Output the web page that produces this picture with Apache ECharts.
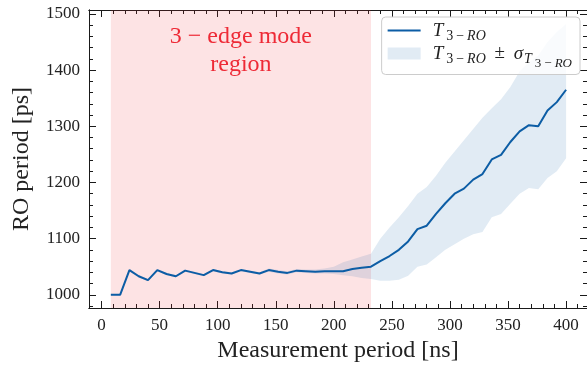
<!DOCTYPE html>
<html>
<head>
<meta charset="utf-8">
<script src="https://cdn.jsdelivr.net/npm/echarts@6/dist/echarts.min.js"></script>
<style>
  html, body { margin: 0; padding: 0; background: #ffffff; }
  #chart { width: 587px; height: 368px; }
</style>
</head>
<body>
<div id="chart"></div>
<script>
// Measurement period of each run [ns]
const periods = [8, 16, 24, 32, 40, 48, 56, 64, 72, 80,
  88, 96, 104, 112, 120, 128, 136, 144, 152, 160,
  168, 176, 184, 192, 200, 208, 216, 224, 232, 240,
  248, 256, 264, 272, 280, 288, 296, 304, 312, 320,
  328, 336, 344, 352, 360, 368, 376, 384, 392, 400];

// Mean ring-oscillator period T_{3-RO} [ps]
const meanPeriod = [1000, 1000, 1044, 1033, 1026, 1044, 1037, 1033, 1043, 1039,
  1035, 1044, 1040, 1038, 1044, 1041, 1038, 1044, 1041, 1039,
  1043, 1042, 1041, 1042, 1042, 1042, 1046, 1048, 1050, 1060,
  1069, 1080, 1095, 1117, 1123, 1144, 1163, 1180, 1189, 1205,
  1215, 1241, 1249, 1272, 1291, 1302, 1300, 1328, 1343, 1365];

// T - sigma and T + sigma [ps]
const bandLower = [999, 999, 1042, 1031, 1024, 1042, 1035, 1031, 1041, 1037,
  1033, 1042, 1038, 1036, 1042, 1039, 1036, 1041, 1038, 1036,
  1040, 1039, 1038, 1038, 1037, 1035, 1033, 1030, 1028, 1025,
  1025, 1027, 1034, 1050, 1054, 1067, 1080, 1090, 1100, 1108,
  1112, 1138, 1144, 1162, 1180, 1190, 1188, 1208, 1220, 1243];
const bandUpper = [1001, 1001, 1046, 1035, 1028, 1046, 1039, 1035, 1045, 1041,
  1037, 1046, 1042, 1040, 1046, 1043, 1040, 1047, 1044, 1042,
  1046, 1045, 1045, 1047, 1050, 1058, 1063, 1068, 1073, 1100,
  1120, 1138, 1158, 1180, 1192, 1212, 1235, 1255, 1275, 1295,
  1315, 1332, 1348, 1370, 1398, 1414, 1426, 1450, 1468, 1482];

// Shaded 3-edge mode interval [ns]
const regionStart = 8;
const regionEnd = 232;
const regionLabel = '3 − edge mode\nregion';

// Axis ticks
const xMajorTicks = [0, 50, 100, 150, 200, 250, 300, 350, 400];
const yMajorTicks = [1000, 1100, 1200, 1300, 1400, 1500];
const xMinorTicks = [];
for (let v = 10; v <= 410; v += 10) xMinorTicks.push(v);
const yMinorTicks = [];
for (let v = 980; v <= 1500; v += 20) yMinorTicks.push(v);

const X_MIN = -10.8, X_MAX = 418;
const Y_MIN = 976.5, Y_MAX = 1507;

const lineColor = '#0C5DA5';
const bandColor = 'rgba(12,93,165,0.12)';
const ink = '#1a1a1a';
const textInk = '#222222';
const serif = '"Liberation Serif", "DejaVu Serif", serif';

function xAxisDef(position, ticks, len, withLabels) {
  return {
    type: 'value', position: position, min: X_MIN, max: X_MAX,
    axisLine: { show: true, onZero: false, lineStyle: { color: ink, width: 1 } },
    axisTick: { show: true, inside: true, length: len, customValues: ticks, lineStyle: { color: ink, width: 1 } },
    axisLabel: withLabels ? {
      show: true, customValues: xMajorTicks, margin: 9,
      fontFamily: serif, fontSize: 17, color: textInk,
      formatter: function (v) { return String(v); }
    } : { show: false },
    splitLine: { show: false },
    name: withLabels ? 'Measurement period [ns]' : '',
    nameLocation: 'middle', nameGap: 31,
    nameTextStyle: { fontFamily: serif, fontSize: 24, color: textInk }
  };
}
function yAxisDef(position, ticks, len, withLabels) {
  return {
    type: 'value', position: position, min: Y_MIN, max: Y_MAX,
    axisLine: { show: true, onZero: false, lineStyle: { color: ink, width: 1 } },
    axisTick: { show: true, inside: true, length: len, customValues: ticks, lineStyle: { color: ink, width: 1 } },
    axisLabel: withLabels ? {
      show: true, customValues: yMajorTicks, margin: 9,
      fontFamily: serif, fontSize: 17, color: textInk,
      formatter: function (v) { return String(v); }
    } : { show: false },
    splitLine: { show: false },
    name: withLabels ? 'RO period [ps]' : '',
    nameLocation: 'middle', nameGap: 55,
    nameTextStyle: { fontFamily: serif, fontSize: 24, color: textInk }
  };
}

// Math-style legend labels: T_{3-RO} and T_{3-RO} ± sigma_{T_{3-RO}}
const legendRich = {
  gap: { width: 7 },
  T: { fontFamily: serif, fontStyle: 'italic', fontSize: 19, color: textInk },
  s: { fontFamily: serif, fontSize: 14, color: textInk, padding: [11, 0, 0, 3] },
  sm: { fontFamily: serif, fontSize: 14, color: textInk, padding: [11, 3, 0, 3] },
  si: { fontFamily: serif, fontStyle: 'italic', fontSize: 14, color: textInk, padding: [11, 0, 0, 0] },
  sT: { fontFamily: serif, fontStyle: 'italic', fontSize: 14, color: textInk, padding: [11, 0, 0, 1] },
  pm: { fontFamily: serif, fontSize: 19, color: textInk, padding: [0, 4, 0, 4] },
  ss: { fontFamily: serif, fontSize: 13, color: textInk, padding: [21, 0, 0, 3] },
  ssm: { fontFamily: serif, fontSize: 13, color: textInk, padding: [21, 3, 0, 3] },
  ssi: { fontFamily: serif, fontStyle: 'italic', fontSize: 13, color: textInk, padding: [21, 0, 0, 0] }
};
const legendText = {
  mean: '{gap|}{T|T}{s|3}{sm|−}{si|RO}',
  band: '{gap|}{T|T}{s|3}{sm|−}{si|RO}{pm| ± }{T|σ}{sT|T}{ss|3}{ssm|−}{ssi|RO}'
};

const chart = echarts.init(document.getElementById('chart'), null, { renderer: 'canvas' });
chart.setOption({
  animation: false,
  backgroundColor: '#ffffff',
  grid: { left: 89, right: 0, top: 10, bottom: 58, containLabel: false },
  xAxis: [
    xAxisDef('bottom', xMajorTicks, 7, true),
    xAxisDef('bottom', xMinorTicks, 4, false),
    xAxisDef('top', xMajorTicks, 7, false),
    xAxisDef('top', xMinorTicks, 4, false)
  ],
  yAxis: [
    yAxisDef('left', yMajorTicks, 7, true),
    yAxisDef('left', yMinorTicks, 4, false),
    yAxisDef('right', yMajorTicks, 7, false),
    yAxisDef('right', yMinorTicks, 4, false)
  ],
  legend: {
    data: [
      { name: 'mean', icon: 'path://M0,0 L33,0 L33,2 L0,2 Z', itemStyle: { color: lineColor } },
      { name: 'band', icon: 'rect', itemStyle: { color: bandColor } }
    ],
    orient: 'vertical', right: 7, top: 17,
    itemWidth: 33, itemHeight: 12, itemGap: 1,
    padding: [4, 8, 4, 6],
    backgroundColor: 'rgba(255,255,255,0.8)', borderColor: '#cccccc', borderWidth: 1, borderRadius: 4,
    formatter: function (name) { return legendText[name]; },
    textStyle: { rich: legendRich }
  },
  series: [
    {
      name: 'region', type: 'line', data: [], z: 1, silent: true,
      markArea: {
        silent: true,
        itemStyle: { color: 'rgba(240,40,50,0.13)' },
        label: {
          show: true, position: 'insideTop', distance: 13,
          fontFamily: serif, fontSize: 24, lineHeight: 28, color: '#ee2a36',
          formatter: regionLabel
        },
        data: [[{ xAxis: regionStart }, { xAxis: regionEnd }]]
      }
    },
    {
      name: 'band', type: 'custom', z: 2, silent: true,
      data: periods.map(function (x, i) { return [x, bandLower[i], bandUpper[i]]; }),
      encode: { x: 0, y: [1, 2] },
      itemStyle: { color: bandColor },
      renderItem: function (params, api) {
        if (params.dataIndex !== 0) return null;
        const pts = [];
        for (let i = 0; i < periods.length; i++) pts.push(api.coord([periods[i], bandUpper[i]]));
        for (let i = periods.length - 1; i >= 0; i--) pts.push(api.coord([periods[i], bandLower[i]]));
        return { type: 'polygon', shape: { points: pts }, style: { fill: bandColor } };
      }
    },
    {
      name: 'mean', type: 'line', z: 3,
      data: periods.map(function (x, i) { return [x, meanPeriod[i]]; }),
      symbol: 'none', showSymbol: false,
      lineStyle: { color: lineColor, width: 2 },
      itemStyle: { color: lineColor }
    }
  ]
});
</script>
</body>
</html>
